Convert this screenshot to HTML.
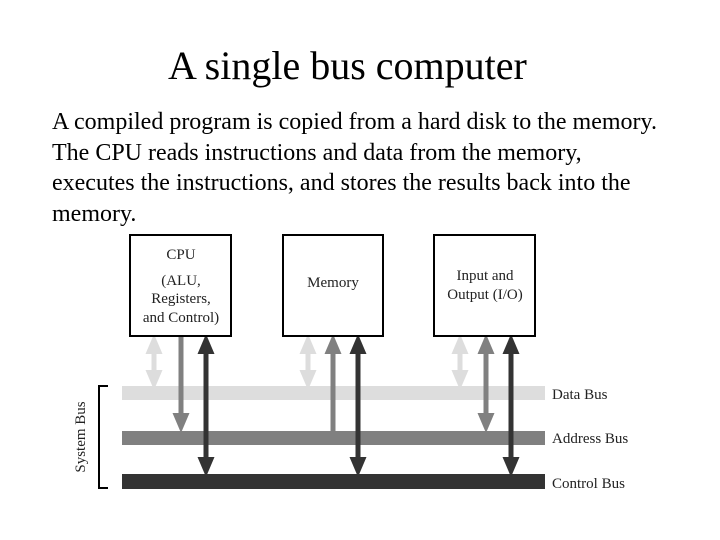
<!DOCTYPE html>
<html><head><style>
body{margin:0;width:720px;height:540px;background:#fff;overflow:hidden;font-family:"Liberation Serif",serif;}
.t{position:absolute;left:168px;top:42px;font-size:40px;white-space:nowrap;}
.p{position:absolute;left:52px;top:107px;font-size:24px;line-height:30.5px;white-space:nowrap;}
</style></head><body>
<div class="t">A single bus computer</div>
<div class="p">A compiled program is copied from a hard disk to the memory.<br>The CPU reads instructions and data from the memory,<br>executes the instructions, and stores the results back into the<br>memory.</div>
<svg width="720" height="540" style="position:absolute;left:0;top:0" font-family="Liberation Serif, serif">
<defs>
<marker id="a1" markerWidth="4" markerHeight="4" refX="2" refY="2" orient="auto-start-reverse" markerUnits="strokeWidth"><path d="M0,0.3L4,2L0,3.7z" fill="#ddd"/></marker>
<marker id="a2" markerWidth="4" markerHeight="4" refX="2" refY="2" orient="auto-start-reverse" markerUnits="strokeWidth"><path d="M0,0.3L4,2L0,3.7z" fill="#808080"/></marker>
<marker id="a3" markerWidth="4" markerHeight="4" refX="2" refY="2" orient="auto-start-reverse" markerUnits="strokeWidth"><path d="M0,0.3L4,2L0,3.7z" fill="#333"/></marker>
</defs>
<rect x="122" y="386" width="423" height="14" fill="#ddd"/>
<rect x="122" y="431" width="423" height="14" fill="#808080"/>
<rect x="122" y="474" width="423" height="15" fill="#333"/>
<g fill="none" stroke-width="5">
<path d="M154,344V380" stroke="#ddd" marker-start="url(#a1)" marker-end="url(#a1)"/>
<path d="M308,344V380" stroke="#ddd" marker-start="url(#a1)" marker-end="url(#a1)"/>
<path d="M460,344V380" stroke="#ddd" marker-start="url(#a1)" marker-end="url(#a1)"/>
<path d="M181,336V423" stroke="#808080" marker-end="url(#a2)"/>
<path d="M333,431V344" stroke="#808080" marker-end="url(#a2)"/>
<path d="M486,344V423" stroke="#808080" marker-start="url(#a2)" marker-end="url(#a2)"/>
<path d="M206,344V467" stroke="#333" marker-start="url(#a3)" marker-end="url(#a3)"/>
<path d="M358,344V467" stroke="#333" marker-start="url(#a3)" marker-end="url(#a3)"/>
<path d="M511,344V467" stroke="#333" marker-start="url(#a3)" marker-end="url(#a3)"/>
</g>
<g fill="#fff" stroke="#000" stroke-width="2">
<rect x="130" y="235" width="101" height="101"/>
<rect x="283" y="235" width="100" height="101"/>
<rect x="434" y="235" width="101" height="101"/>
</g>
<g font-size="15" text-anchor="middle" fill="#222">
<text x="181" y="259">CPU</text>
<text x="181" y="285">(ALU,</text>
<text x="181" y="303">Registers,</text>
<text x="181" y="322">and Control)</text>
<text x="333" y="287">Memory</text>
<text x="485" y="280">Input and</text>
<text x="485" y="299">Output (I/O)</text>
</g>
<g font-size="15" fill="#222">
<text x="552" y="399">Data Bus</text>
<text x="552" y="443">Address Bus</text>
<text x="552" y="488">Control Bus</text>
</g>
<path d="M108,386H99V488H108" fill="none" stroke="#000" stroke-width="2"/>
<text transform="translate(85,437) rotate(-90)" font-size="15" text-anchor="middle" fill="#222">System Bus</text>
</svg>
</body></html>
